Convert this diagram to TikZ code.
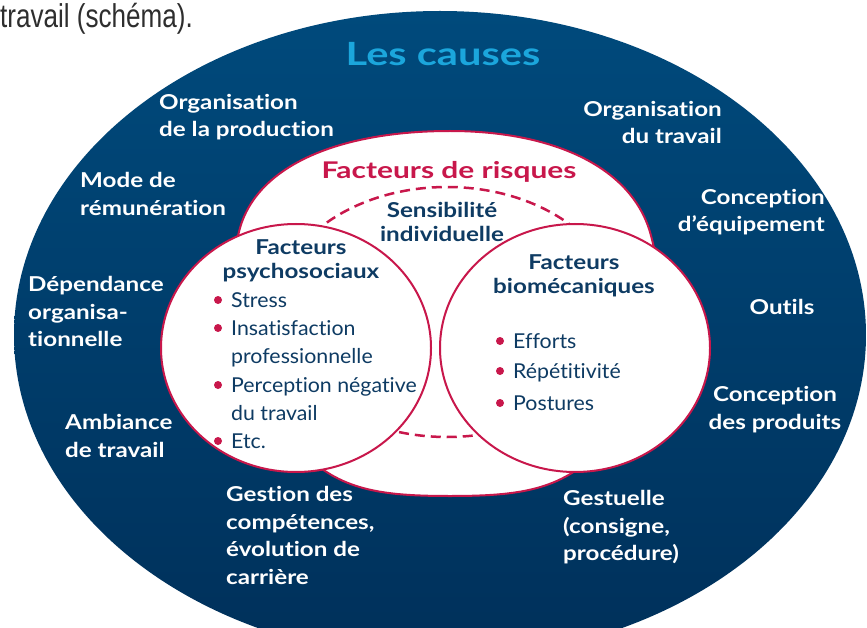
\documentclass[tikz,border=0pt]{standalone}
\usepackage{fontspec}
\setmainfont{Lato}[Ligatures=NoCommon, FakeStretch=1.04]
\newfontfamily\labelfont{Lato}[Ligatures=NoCommon, FakeStretch=1.18]
\newfontfamily\headfont{Lato}[Ligatures=NoCommon, FakeStretch=1.3]
\newfontfamily\captionfont[FakeStretch=0.79]{Liberation Sans}
\usepackage{tikz}
\definecolor{navy}{HTML}{004A7C}
\definecolor{navydark}{HTML}{00305A}
\definecolor{crimson}{HTML}{C8174B}
\definecolor{inktext}{HTML}{0E3B63}
\definecolor{sky}{HTML}{1BA6DC}
\tikzset{cause/.style = {font=\labelfont\bfseries\fontsize{20.5}{27.6}\selectfont, text=white, inner sep=0pt},
         factor/.style = {font=\labelfont\bfseries\fontsize{20.5}{24}\selectfont, text=inktext, inner sep=0pt, align=center},
         item/.style = {font=\fontsize{20.5}{20.5}\selectfont, text=inktext, inner sep=0pt, anchor=base west},
         border/.style = {draw=crimson, line width=2pt, fill=white}}

\begin{document}
\begin{tikzpicture}[x=1pt, y=-1pt]
      \useasboundingbox (0,0) rectangle (867,628);
      \fill [white] (0,0) rectangle (867,628);

      \node [anchor=base east, inner sep=0pt, text=black!82,
             font=\captionfont\fontsize{33}{33}\selectfont] (caption) at (193,28) {travail (schéma).};

      \shade [top color=navy, bottom color=navydark] (440,335) ellipse [x radius=426pt, y radius=324pt];

      \node [anchor=base, inner sep=0pt, text=sky,
             font=\headfont\bfseries\fontsize{32}{32}\selectfont] (title) at (443,66) {Les causes};

      % white areas (the sides of the middle one are hidden by the circles)
      \draw [border] (240,228) .. controls (258,165) and (340,131) .. (450,131)
                     .. controls (550,131) and (630,165) .. (650,232)
                     .. controls (660,268) and (668,320) .. (650,370) -- (598,452)
                     .. controls (560,490) and (520,496) .. (450,496)
                     .. controls (380,496) and (340,490) .. (302,452) -- (250,370)
                     .. controls (230,320) and (228,270) .. (240,228) -- cycle;
      \draw [crimson, line width=2.5pt, dash pattern=on 10pt off 6pt] (447,312) ellipse [x radius=172pt, y radius=125pt];
      \draw [border] (296,348) ellipse [x radius=135pt, y radius=124pt];
      \draw [border] (575,348) ellipse [x radius=135pt, y radius=124pt];

      \node [anchor=base, inner sep=0pt, text=crimson,
             font=\headfont\bfseries\fontsize{23}{23}\selectfont] (risques) at (449,179) {Facteurs de risques};
      \node [factor, anchor=north] (sensib) at (442,202) {Sensibilité\\individuelle};
      \node [factor, anchor=north] (psycho) at (301,239) {Facteurs\\psychosociaux};
      \node [factor, anchor=north] (biomeca) at (574,254) {Facteurs\\biomécaniques};

      \foreach \y/\txt in {307/Stress, 335/Insatisfaction, 363/professionnelle,
                           392/Perception négative, 420/du travail, 448/Etc.}
        \node [item] (psy-\y) at (231,\y) {\txt};
      \foreach \y in {307,335,392,448}
        \fill [crimson] (218,\y-7) circle (4pt);

      \foreach \y/\txt in {348/Efforts, 378/Répétitivité, 410/Postures} {
        \node [item] (bio-\y) at (513,\y) {\txt};
        \fill [crimson] (500,\y-7) circle (4pt);
      }

      \node [cause, align=left, anchor=north west] (prod) at (159,94) {Organisation\\de la production};
      \node [cause, align=left, anchor=north west] (remun) at (80,172) {Mode de\\rémunération};
      \node [cause, align=left, anchor=north west] (depend) at (28,276) {Dépendance\\organisa-\\tionnelle};
      \node [cause, align=left, anchor=north west] (ambiance) at (65,414) {Ambiance\\de travail};
      \node [cause, align=left, anchor=north west] (gestion) at (226,486) {Gestion des\\compétences,\\évolution de\\carrière};
      \node [cause, align=left, anchor=north west] (gestuelle) at (563,490) {Gestuelle\\(consigne,\\procédure)};
      \node [cause, align=right, anchor=north east] (orgtravail) at (722,101) {Organisation\\du travail};
      \node [cause, align=right, anchor=north east] (equipement) at (825,189) {Conception\\d’équipement};
      \node [cause, anchor=base] (outils) at (782,314) {Outils};
      \node [cause, align=center, anchor=north] (produits) at (775,386) {Conception\\des produits};
    \end{tikzpicture}
\end{document}
